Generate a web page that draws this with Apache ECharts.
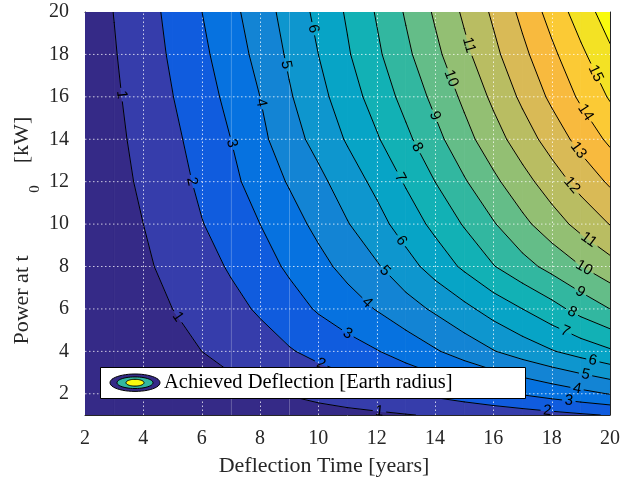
<!DOCTYPE html>
<html>
<head>
<meta charset="utf-8">
<script src="https://cdn.jsdelivr.net/npm/echarts@6/dist/echarts.min.js"></script>
<style>
  html, body { margin: 0; padding: 0; background: #ffffff; }
  #chart { width: 623px; height: 478px; }
</style>
</head>
<body>
<div id="chart"></div>
<script>
// Sampling grid: deflection time (years) and power at t0 (kW)
const deflectionTime = [2, 3, 4, 5, 6, 7, 8, 9, 10, 11, 12, 13, 14, 15, 16, 17, 18, 19, 20];
const powerAtT0 = [1, 2, 4, 6, 8, 10, 12, 14, 16, 18, 20];

// Achieved deflection [Earth radius], one row per power level, along deflectionTime
const deflectionP1  = [0.04, 0.10, 0.17, 0.24, 0.31, 0.38, 0.46, 0.55, 0.65, 0.75, 0.84, 0.96, 1.08, 1.22, 1.37, 1.53, 1.70, 1.88, 2.06];
const deflectionP2  = [0.08, 0.20, 0.32, 0.45, 0.58, 0.72, 0.88, 1.05, 1.26, 1.47, 1.70, 1.94, 2.20, 2.48, 2.78, 3.08, 3.40, 3.72, 4.04];
const deflectionP4  = [0.15, 0.35, 0.55, 0.75, 1.00, 1.28, 1.58, 1.92, 2.27, 2.60, 2.95, 3.40, 3.90, 4.42, 4.95, 5.45, 5.93, 6.40, 6.86];
const deflectionP6  = [0.20, 0.45, 0.72, 1.00, 1.35, 1.72, 2.12, 2.60, 3.10, 3.55, 4.05, 4.60, 5.15, 5.75, 6.40, 7.00, 7.64, 8.36, 9.00];
const deflectionP8  = [0.23, 0.53, 0.85, 1.25, 1.65, 2.10, 2.60, 3.15, 3.70, 4.30, 4.90, 5.62, 6.40, 7.17, 7.95, 8.65, 9.30, 9.98, 10.63];
const deflectionP10 = [0.27, 0.62, 1.00, 1.42, 1.96, 2.45, 3.00, 3.60, 4.25, 4.95, 5.65, 6.45, 7.25, 8.08, 8.92, 9.75, 10.55, 11.31, 12.03];
const deflectionP12 = [0.30, 0.70, 1.15, 1.60, 2.20, 2.75, 3.45, 4.08, 4.75, 5.50, 6.25, 7.10, 8.00, 8.90, 9.78, 10.65, 11.50, 12.35, 13.15];
const deflectionP14 = [0.33, 0.78, 1.28, 1.80, 2.37, 3.00, 3.75, 4.60, 5.32, 6.10, 6.90, 7.78, 8.70, 9.65, 10.58, 11.50, 12.42, 13.34, 14.20];
const deflectionP16 = [0.37, 0.86, 1.40, 1.98, 2.60, 3.25, 4.00, 4.90, 5.68, 6.55, 7.40, 8.32, 9.25, 10.20, 11.20, 12.20, 13.20, 14.17, 15.10];
const deflectionP18 = [0.40, 0.94, 1.53, 2.13, 2.80, 3.50, 4.30, 5.15, 6.00, 6.90, 7.82, 8.78, 9.76, 10.75, 11.75, 12.76, 13.78, 14.80, 15.82];
const deflectionP20 = [0.45, 1.02, 1.61, 2.26, 2.99, 3.73, 4.53, 5.38, 6.25, 7.12, 8.08, 9.10, 10.13, 11.16, 12.16, 13.25, 14.37, 15.48, 16.52];

const contourLevels = [1, 2, 3, 4, 5, 6, 7, 8, 9, 10, 11, 12, 13, 14, 15, 16];
const xTickValues = [2, 4, 6, 8, 10, 12, 14, 16, 18, 20];
const yTickValues = [2, 4, 6, 8, 10, 12, 14, 16, 18, 20];
const seriesName = 'Achieved Deflection [Earth radius]';

// rows of the grid, in the same order as powerAtT0
const deflectionRows = [deflectionP1, deflectionP2, deflectionP4, deflectionP6, deflectionP8,
  deflectionP10, deflectionP12, deflectionP14, deflectionP16, deflectionP18, deflectionP20];

// ---- presentation ----
const xRange = [2, 20];
const yRange = [1, 20];
// fill colour of each band between consecutive contour levels (parula)
const bandColors = ['#352a87', '#363dab', '#105cde', '#0672e0', '#1384d4', '#0e96ce', '#07a4c6',
  '#12b1b5', '#32b7a0', '#64bd88', '#93bf73', '#b9bd62', '#d9ba56', '#f8ba3e', '#fbca35', '#f3e224', '#f9fb0e'];
// where each inline contour label sits: [level, years, kW]
const labelSpots = [
  [1, 3.23, 16.1], [1, 5.18, 5.63], [1, 12.1, 1.23],
  [2, 5.64, 12.0], [2, 10.12, 3.51], [2, 17.85, 1.17],
  [3, 7.0, 13.8], [3, 10.98, 4.77], [3, 18.6, 1.8],
  [4, 7.97, 15.7], [4, 11.6, 6.19], [4, 18.87, 2.25],
  [5, 8.97, 17.53], [5, 12.26, 7.76], [5, 19.16, 2.9],
  [6, 9.78, 19.2], [6, 12.8, 9.17], [6, 19.4, 3.5],
  [7, 12.85, 12.23], [7, 18.47, 4.95],
  [8, 13.42, 13.65], [8, 18.7, 5.85],
  [9, 14.05, 15.14], [9, 18.98, 6.8],
  [10, 14.56, 16.87], [10, 19.1, 7.9],
  [11, 15.18, 18.44], [11, 19.27, 9.25],
  [12, 18.7, 11.84], [13, 18.93, 13.5], [14, 19.2, 15.3], [15, 19.5, 17.1]
];
const labelFontSize = 15;
const axisColor = '#262626';
const serif = '"Liberation Serif", "Times New Roman", serif';
// faint light rules running the full height at these years
const seamYears = [7, 9];

// one datum per grid cell: [t0, p0, column index, row index]
const cells = [];
for (let j = 0; j < powerAtT0.length - 1; j++) {
  for (let i = 0; i < deflectionTime.length - 1; i++) {
    cells.push([deflectionTime[i], powerAtT0[j], i, j]);
  }
}

function cellCorners(i, j) {
  return [[i, j], [i + 1, j], [i + 1, j + 1], [i, j + 1]].map(([a, b]) => ({
    t: deflectionTime[a], p: powerAtT0[b], v: deflectionRows[b][a]
  }));
}

// keep the part of a cell polygon above (or below) a level, interpolating along edges
function clipPoly(poly, level, keepAbove) {
  const out = [];
  for (let n = 0; n < poly.length; n++) {
    const a = poly[n], b = poly[(n + 1) % poly.length];
    const ina = keepAbove ? a.v >= level : a.v <= level;
    const inb = keepAbove ? b.v >= level : b.v <= level;
    if (ina) out.push(a);
    if (ina !== inb) {
      const f = (level - a.v) / (b.v - a.v);
      out.push({ t: a.t + f * (b.t - a.t), p: a.p + f * (b.p - a.p), v: level });
    }
  }
  return out;
}

// contour segment of one level inside one cell (data coordinates)
function cellSegment(i, j, level) {
  const c = cellCorners(i, j);
  const pts = [];
  for (let n = 0; n < 4; n++) {
    const a = c[n], b = c[(n + 1) % 4];
    if ((a.v < level) !== (b.v < level)) {
      const f = (level - a.v) / (b.v - a.v);
      pts.push([a.t + f * (b.t - a.t), a.p + f * (b.p - a.p)]);
    }
  }
  return pts.length === 2 ? pts : null;
}

function renderBands(params, api) {
  const i = api.value(2), j = api.value(3);
  const corners = cellCorners(i, j);
  const children = [];
  for (let k = 0; k <= contourLevels.length; k++) {
    let poly = corners;
    if (k > 0) poly = clipPoly(poly, contourLevels[k - 1], true);
    if (poly.length >= 3 && k < contourLevels.length) poly = clipPoly(poly, contourLevels[k], false);
    if (poly.length < 3) continue;
    children.push({
      type: 'polygon',
      shape: { points: poly.map(q => api.coord([q.t, q.p])) },
      style: { fill: bandColors[k], stroke: bandColors[k], lineWidth: 0.8 },
      silent: true
    });
  }
  return { type: 'group', children };
}

// snap every label onto its contour line and take the local direction
let placedLabels = null;
function placeLabels(api) {
  if (placedLabels) return placedLabels;
  placedLabels = labelSpots.map(([level, t0, p0]) => {
    const target = api.coord([t0, p0]);
    let best = null;
    for (let j = 0; j < powerAtT0.length - 1; j++) {
      for (let i = 0; i < deflectionTime.length - 1; i++) {
        const seg = cellSegment(i, j, level);
        if (!seg) continue;
        const A = api.coord(seg[0]), B = api.coord(seg[1]);
        const dx = B[0] - A[0], dy = B[1] - A[1];
        const len2 = dx * dx + dy * dy || 1;
        let u = ((target[0] - A[0]) * dx + (target[1] - A[1]) * dy) / len2;
        u = Math.max(0, Math.min(1, u));
        const x = A[0] + u * dx, y = A[1] + u * dy;
        const d = Math.hypot(x - target[0], y - target[1]);
        if (!best || d < best.d) best = { x, y, d, ang: Math.atan2(dy, dx) };
      }
    }
    let ang = best.ang;
    while (ang > Math.PI / 2) ang -= Math.PI;
    while (ang <= -Math.PI / 2) ang += Math.PI;
    const text = String(level);
    const r = text.length * 0.556 * labelFontSize / 2 + 3;
    return { level, text, x: best.x, y: best.y, ang, r };
  });
  return placedLabels;
}

// remove the part of a segment that lies under a label
function cutCircle(seg, c) {
  const A = seg[0], B = seg[1];
  const dx = B[0] - A[0], dy = B[1] - A[1];
  const fx = A[0] - c.x, fy = A[1] - c.y;
  const a = dx * dx + dy * dy, b = 2 * (fx * dx + fy * dy), cc = fx * fx + fy * fy - c.r * c.r;
  const disc = b * b - 4 * a * cc;
  if (a === 0 || disc <= 0) return [seg];
  const s = Math.sqrt(disc);
  const t1 = (-b - s) / (2 * a), t2 = (-b + s) / (2 * a);
  if (t2 <= 0 || t1 >= 1) return [seg];
  const at = t => [A[0] + dx * t, A[1] + dy * t];
  const out = [];
  if (t1 > 0) out.push([A, at(t1)]);
  if (t2 < 1) out.push([at(t2), B]);
  return out;
}

function renderContours(params, api) {
  const i = api.value(2), j = api.value(3);
  const labels = placeLabels(api);
  const children = [];
  contourLevels.forEach(level => {
    const seg = cellSegment(i, j, level);
    if (!seg) return;
    let parts = [[api.coord(seg[0]), api.coord(seg[1])]];
    labels.filter(l => l.level === level).forEach(l => {
      parts = parts.flatMap(s => cutCircle(s, l));
    });
    parts.forEach(s => children.push({
      type: 'line',
      shape: { x1: s[0][0], y1: s[0][1], x2: s[1][0], y2: s[1][1] },
      style: { stroke: '#000000', lineWidth: 1, lineCap: 'round' },
      silent: true
    }));
  });
  return { type: 'group', children };
}

function renderLabel(params, api) {
  const l = placeLabels(api)[params.dataIndex];
  return {
    type: 'text',
    x: l.x, y: l.y, rotation: -l.ang,
    style: {
      text: l.text, fill: '#000000', align: 'center', verticalAlign: 'middle',
      font: labelFontSize + 'px "Liberation Sans", Arial, sans-serif'
    },
    silent: true
  };
}

// grid lines: [value, kind] with kind 0 = dotted vertical, 1 = dotted horizontal, 2 = faint vertical rule
const gridData = xTickValues.filter(v => v > xRange[0] && v < xRange[1]).map(v => [v, 0])
  .concat(yTickValues.filter(v => v > yRange[0] && v < yRange[1]).map(v => [v, 1]))
  .concat(seamYears.map(v => [v, 2]));
function renderGrid(params, api) {
  const v = api.value(0), kind = api.value(1);
  const horizontal = kind === 1;
  const a = horizontal ? api.coord([xRange[0], v]) : api.coord([v, yRange[0]]);
  const b = horizontal ? api.coord([xRange[1], v]) : api.coord([v, yRange[1]]);
  const style = kind === 2
    ? { stroke: 'rgba(255,255,255,0.22)', lineWidth: 1 }
    : { stroke: 'rgba(255,255,255,0.75)', lineWidth: 1, lineDash: [1.5, 2.5] };
  const off = kind === 1 ? 0 : 0.5;
  return {
    type: 'line',
    shape: { x1: Math.round(a[0]) + off, y1: a[1], x2: Math.round(b[0]) + off, y2: b[1] },
    style,
    silent: true
  };
}

function ellipsePoints(cx, cy, rx, ry) {
  const pts = [];
  for (let n = 0; n < 48; n++) {
    const t = (n / 48) * Math.PI * 2;
    pts.push([cx + rx * Math.cos(t), cy + ry * Math.sin(t)]);
  }
  return pts;
}

const chart = echarts.init(document.getElementById('chart'), null, { renderer: 'canvas' });

const tickLabelStyle = { fontFamily: serif, fontSize: 20, color: axisColor };
function makeAxis(pos, range, isY, showLabels) {
  const ax = {
    type: 'value', position: pos, min: range[0], max: range[1],
    axisLine: { show: true, onZero: false, lineStyle: { color: axisColor, width: 1 } },
    axisTick: { show: true, inside: true, length: 5, lineStyle: { color: axisColor, width: 1 } },
    axisLabel: Object.assign({ show: showLabels, margin: isY ? 16 : 14 }, tickLabelStyle),
    splitLine: { show: false }
  };
  if (isY) {
    ax.axisTick.customValues = yTickValues;
    ax.axisLabel.customValues = yTickValues;
  } else {
    ax.interval = 2;
  }
  return ax;
}

chart.setOption({
  animation: false,
  backgroundColor: '#ffffff',
  grid: { left: 85, right: 10, top: 12, bottom: 63, containLabel: false },
  xAxis: [makeAxis('bottom', xRange, false, true), makeAxis('top', xRange, false, false)],
  yAxis: [makeAxis('left', yRange, true, true), makeAxis('right', yRange, true, false)],
  series: [
    {
      name: seriesName, type: 'custom', coordinateSystem: 'cartesian2d', clip: true,
      renderItem: renderBands, data: cells, encode: { x: 0, y: 1 }, z: 1
    },
    {
      type: 'custom', coordinateSystem: 'cartesian2d', clip: true,
      renderItem: renderGrid, data: gridData, z: 2
    },
    {
      type: 'custom', coordinateSystem: 'cartesian2d', clip: true,
      renderItem: renderContours, data: cells, encode: { x: 0, y: 1 }, z: 3
    },
    {
      type: 'custom', coordinateSystem: 'cartesian2d', clip: false,
      renderItem: renderLabel, data: labelSpots.map(s => [s[1], s[2]]), encode: { x: 0, y: 1 }, z: 4
    }
  ],
  graphic: [
    // axis titles
    {
      type: 'text', x: 324, y: 466, z: 10,
      style: { text: 'Deflection Time [years]', font: '22px ' + serif, fill: axisColor, align: 'center', verticalAlign: 'middle' }
    },
    {
      type: 'text', x: 22, y: 300, rotation: Math.PI / 2, z: 10,
      style: { text: 'Power at t', font: '22px ' + serif, fill: axisColor, align: 'center', verticalAlign: 'middle' }
    },
    {
      type: 'text', x: 35, y: 189, rotation: Math.PI / 2, z: 10,
      style: { text: '0', font: '15px ' + serif, fill: axisColor, align: 'center', verticalAlign: 'middle' }
    },
    {
      type: 'text', x: 22, y: 140, rotation: Math.PI / 2, z: 10,
      style: { text: '[kW]', font: '22px ' + serif, fill: axisColor, align: 'center', verticalAlign: 'middle' }
    },
    // legend box with the filled-contour icon
    {
      type: 'rect', z: 20, shape: { x: 100.5, y: 367.5, width: 425, height: 31 },
      style: { fill: '#ffffff', stroke: '#000000', lineWidth: 1 }
    },
    {
      type: 'polygon', z: 21, shape: { points: ellipsePoints(135, 382.7, 25, 8.7) },
      style: { fill: bandColors[0], stroke: '#000000', lineWidth: 1 }
    },
    {
      type: 'polygon', z: 22, shape: { points: ellipsePoints(135, 382.7, 18, 5.8) },
      style: { fill: bandColors[8], stroke: '#000000', lineWidth: 1 }
    },
    {
      type: 'polygon', z: 23, shape: { points: ellipsePoints(135, 382.7, 9, 3.4) },
      style: { fill: bandColors[16], stroke: '#000000', lineWidth: 1 }
    },
    {
      type: 'text', z: 24, x: 164, y: 383,
      style: { text: seriesName, font: '20.5px ' + serif, fill: '#000000', align: 'left', verticalAlign: 'middle' }
    }
  ]
});
</script>
</body>
</html>
